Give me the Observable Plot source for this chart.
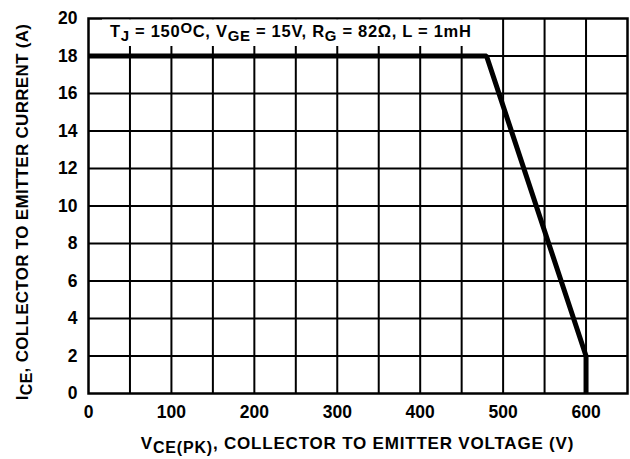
<!DOCTYPE html>
<html>
<head>
<meta charset="utf-8">
<script src="https://cdn.jsdelivr.net/npm/d3@7"></script>
<script src="https://cdn.jsdelivr.net/npm/@observablehq/plot@0.6"></script>
<style>
  html, body { margin: 0; padding: 0; background: white; }
</style>
</head>
<body>
<div id="chart"></div>
<script>
// Data (RBSOA curve)
const voltage = [0, 480, 600, 600];
const current = [18, 18, 2, 0];
const xTicks = [0, 100, 200, 300, 400, 500, 600];
const yTicks = [0, 2, 4, 6, 8, 10, 12, 14, 16, 18, 20];
const xGrid = [50, 100, 150, 200, 250, 300, 350, 400, 450, 500, 550, 600];
const yGrid = [2, 4, 6, 8, 10, 12, 14, 16, 18];
const xDomain = [0, 650];
const yDomain = [0, 20];

const curve = voltage.map((v, i) => ({v, i: current[i]}));

const font = "'Liberation Sans', Arial, sans-serif";

const plot = Plot.plot({
  width: 630,
  height: 459,
  marginLeft: 88,
  marginRight: 3,
  marginTop: 18,
  marginBottom: 66,
  style: {fontFamily: font, fontSize: "17.5px", fontWeight: "bold", background: "white", color: "black", overflow: "visible"},
  x: {domain: xDomain, ticks: xTicks, tickSize: 0, tickPadding: 12, label: null},
  y: {domain: yDomain, ticks: yTicks, tickSize: 0, tickPadding: 11, label: null},
  marks: [
    Plot.ruleX(xGrid, {stroke: "black", strokeWidth: 2}),
    Plot.ruleY(yGrid, {stroke: "black", strokeWidth: 2}),
    Plot.line(curve, {x: "v", y: "i", stroke: "black", strokeWidth: 5, strokeLinejoin: "miter", strokeLinecap: "butt"}),
    Plot.frame({stroke: "black", strokeWidth: 2.5})
  ]
});
document.getElementById("chart").appendChild(plot);

const svg = d3.select(plot);
const xScale = plot.scale("x"), yScale = plot.scale("y");
const xs = v => xScale.apply(v), ys = v => yScale.apply(v);

function richText(parent, parts, attrs, size, subSize, shift, spacing) {
  const t = parent.append("text")
    .attr("font-family", font).attr("font-weight", "bold")
    .attr("font-size", size).attr("fill", "black").attr("text-anchor", "start")
    .style("letter-spacing", spacing + "px");
  for (const [k, v] of Object.entries(attrs)) t.attr(k, v);
  let cur = 0;
  for (const p of parts) {
    const [s, mode] = Array.isArray(p) ? p : [p, "n"];
    const target = mode === "sub" ? shift : mode === "sup" ? -shift : 0;
    const ts = t.append("tspan").text(s)
      .attr("font-size", mode === "n" ? size : subSize);
    if (target !== cur) { ts.attr("dy", target - cur); cur = target; }
  }
  return t;
}

// Annotation with white background box
const annG = svg.append("g");
const annBg = annG.append("rect").attr("fill", "white");
const ann = richText(annG, [
  "T", ["J", "sub"], " = 150", ["O", "sup"], "C, V", ["GE", "sub"], " = 15V, R", ["G", "sub"], " = 82Ω, L = 1mH"
], {x: 110, y: 37}, 16.5, 15, 4, 0.7);
const bb = ann.node().getBBox();
const topY = ys(yDomain[1]);
annBg.attr("x", bb.x - 8).attr("y", topY + 1.5)
  .attr("width", bb.width + 16).attr("height", bb.y + bb.height + 2 - topY - 1.5);

// X axis label
richText(svg, ["V", ["CE(PK)", "sub"], ", COLLECTOR TO EMITTER VOLTAGE (V)"],
  {x: (xs(xDomain[0]) + xs(xDomain[1])) / 2, y: 449, "text-anchor": "middle"}, 17, 16, 4, 0.8);

// Y axis label
const yMid = 212;
richText(svg, ["I", ["CE", "sub"], ", COLLECTOR TO EMITTER CURRENT (A)"],
  {x: 0, y: 0, "text-anchor": "middle", transform: `translate(28,${yMid}) rotate(-90)`}, 17, 16, 4, 0.3);
</script>
</body>
</html>
